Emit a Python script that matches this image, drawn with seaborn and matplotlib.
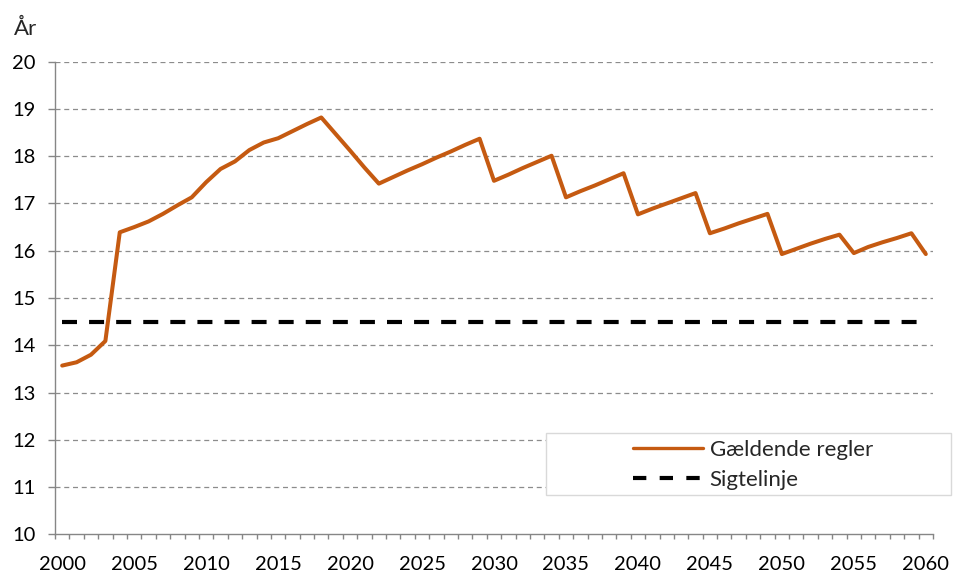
import numpy as np
import pandas as pd
import matplotlib
matplotlib.use("Agg")
import matplotlib.pyplot as plt
from matplotlib.patches import Rectangle
import seaborn as sns

# ---- data ----
years = list(range(2000, 2061))
gaeldende = [13.57, 13.64, 13.80, 14.09, 16.39, 16.50, 16.62, 16.78, 16.96, 17.13,
             17.45, 17.73, 17.89, 18.13, 18.29, 18.38, 18.53, 18.68, 18.82, 18.47,
             18.12, 17.76, 17.42, 17.56, 17.70, 17.83, 17.97, 18.10, 18.24, 18.37,
             17.48, 17.61, 17.75, 17.88, 18.01, 17.13, 17.26, 17.38, 17.51, 17.64,
             16.77, 16.89, 17.00, 17.11, 17.22, 16.37, 16.47, 16.58, 16.68, 16.78,
             15.93, 16.04, 16.15, 16.25, 16.34, 15.95, 16.08, 16.18, 16.27, 16.37,
             15.93]
sigtelinje = [14.5] * len(years)
series_names = ["Gældende regler", "Sigtelinje"]
y_ticks = list(range(10, 21))
x_tick_labels = list(range(2000, 2061, 5))
y_title = "År"

df = pd.DataFrame({"År": years, series_names[0]: gaeldende, series_names[1]: sigtelinje})

sns.set_style("white")
plt.rcParams["font.family"] = ["Lato", "DejaVu Sans"]

W, H = 954, 574
fig = plt.figure(figsize=(W / 100, H / 100), dpi=100)
ax = fig.add_axes([55 / W, 1 - 534.3 / H, (933 - 55) / W, (534.3 - 61.7) / H])

orange = "#C55A11"
sns.lineplot(data=df, x="År", y=series_names[0], ax=ax, color=orange, lw=2.9,
             label=series_names[0], zorder=3)
sns.lineplot(data=df, x="År", y=series_names[1], ax=ax, color="black", lw=3,
             label=series_names[1], zorder=3, dashes=False)
ax.lines[1].set_dashes((3.6, 2.9))

ax.set_xlim(1999.5, 2060.5)
ax.set_ylim(10, 20)
ax.set_xlabel("")
ax.set_ylabel("")

gray = "#868686"
tick_fs = 14.5
ax.set_yticks(y_ticks)
ax.set_xticks(x_tick_labels)
ax.set_xticks(np.arange(1999.5, 2061, 1.0), minor=True)
ax.tick_params(axis="y", which="major", direction="out", length=5, width=1,
               color=gray, labelsize=tick_fs, pad=9, left=True, labelcolor="black")
ax.tick_params(axis="x", which="major", length=0, labelsize=tick_fs, pad=15.5,
               labelcolor="black")
ax.tick_params(axis="x", which="minor", direction="out", length=3.6, width=1,
               color=gray, bottom=True)

for s in ["top", "right"]:
    ax.spines[s].set_visible(False)
for s in ["left", "bottom"]:
    ax.spines[s].set_color(gray)
    ax.spines[s].set_linewidth(1)

for yv in y_ticks[1:]:
    ax.axhline(yv, color="#8c8c8c", lw=0.9, ls=(0, (4, 3)), zorder=1)

fig.text(14 / W, 1 - 35 / H, y_title, fontsize=16, va="baseline", ha="left")

# legend box
rect = Rectangle((546 / W, 1 - 495 / H), (951 - 546) / W, (495 - 433) / H,
                 transform=fig.transFigure, facecolor="white", edgecolor="#d9d9d9",
                 lw=1, clip_on=False, zorder=4)
ax.add_patch(rect)
leg = ax.legend(loc="center left", bbox_to_anchor=(633 / W, 1 - 464.5 / H),
                bbox_transform=fig.transFigure, frameon=False, fontsize=16,
                handlelength=3.15, handletextpad=0.3, labelspacing=0.45,
                borderpad=0, borderaxespad=0)
leg.set_zorder(6)
leg.get_lines()[0].set_linewidth(2.4)
leg.get_lines()[1].set_dashes((3.2, 3.2))

fig.savefig("out.png", dpi=100)
